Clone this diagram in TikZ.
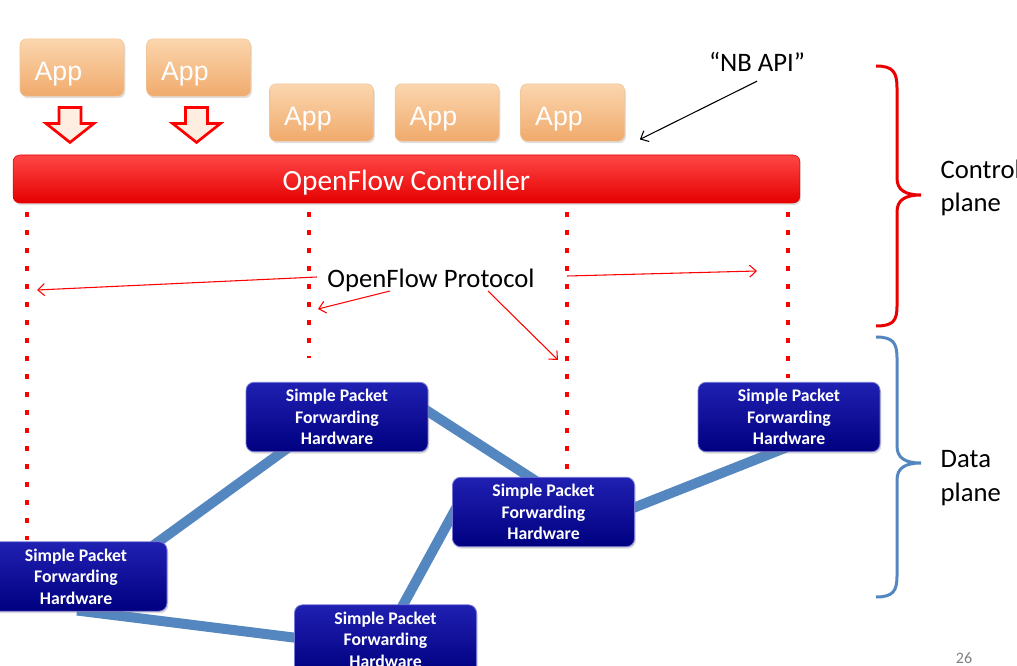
\documentclass[tikz,border=0pt]{standalone}
\usepackage{fontspec}
\setmainfont{Carlito}
\newfontfamily\appfont{Liberation Sans}
\usetikzlibrary{positioning,arrows.meta,shadows,backgrounds}

\definecolor{appTop}{RGB}{251,214,174}
\definecolor{appBot}{RGB}{240,170,108}
\definecolor{appEdge}{RGB}{238,196,150}
\definecolor{ctrlTop}{RGB}{255,70,70}
\definecolor{ctrlBot}{RGB}{228,0,0}
\definecolor{hwTop}{RGB}{32,32,178}
\definecolor{hwBot}{RGB}{0,0,128}
\definecolor{hwEdge}{RGB}{120,120,215}
\definecolor{linkBlue}{RGB}{84,134,192}
\definecolor{braceRed}{RGB}{235,0,0}
\definecolor{arrowFill}{RGB}{254,238,226}

\begin{document}
\begin{tikzpicture}[
    x=0.75pt, y=-0.75pt,
    node distance=16pt,
    app/.style={
        draw=appEdge,
        top color=appTop,
        bottom color=appBot,
        rounded corners=5pt,
        minimum height=43pt,
        text width=56pt,
        text height=24pt,
        text depth=4pt,
        inner xsep=11pt,
        align=left,
        text=white,
        font=\appfont\fontsize{20}{24}\selectfont,
        drop shadow={opacity=0.25,shadow xshift=1pt,shadow yshift=-1.5pt}
    },
    ctrl/.style={
        draw=ctrlBot,
        top color=ctrlTop,
        bottom color=ctrlBot,
        rounded corners=5pt,
        minimum width=590pt,
        minimum height=36pt,
        text height=17pt,
        text depth=0pt,
        text=white,
        font=\fontsize{22}{26}\selectfont,
        drop shadow={opacity=0.25,shadow xshift=1pt,shadow yshift=-1.5pt}
    },
    hw/.style={
        draw=hwEdge,
        line width=0.6pt,
        top color=hwTop,
        bottom color=hwBot,
        rounded corners=6pt,
        minimum width=136.5pt,
        minimum height=52pt,
        align=center,
        text=white,
        font=\bfseries\fontsize{13.3}{16.1}\selectfont,
        drop shadow={opacity=0.3,shadow xshift=1pt,shadow yshift=-1.5pt}
    },
    blockarrow/.style={draw=red, line width=2pt, fill=arrowFill, line join=miter},
    ofdots/.style={draw=red, line width=3pt, dash pattern=on 3.5pt off 10pt},
    ofarrow/.style={draw=red, line width=0.8pt, -{Straight Barb[length=5pt,width=9pt]}},
    nbarrow/.style={draw=black, line width=0.8pt, -{Straight Barb[length=5pt,width=9pt]}},
    link/.style={draw=linkBlue, line width=7.5pt},
    txt/.style={font=\fontsize{20}{25}\selectfont, align=left},
    pagenum/.style={text=gray, font=\fontsize{12}{14}\selectfont}
]

\useasboundingbox (0,0) rectangle (1017,666);
\clip (0,0) rectangle (1017,666);

% applications
\node[app] (App1) at (72,67.5) {App};
\node[app, right=16.5pt of App1] (App2) {App};
\node[app] (App3) at (321.5,112.5) {App};
\node[app, right=15.75pt of App3] (App4) {App};
\node[app, right=15.75pt of App4] (App5) {App};

% block arrows under the first two apps
\foreach \a in {App1,App2}
    \draw[blockarrow] ([shift={(-13,11)}]\a.south) -- ++(22,0) -- ++(0,16) -- ++(13,0)
        -- ++(-24,19) -- ++(-24,-19) -- ++(13,0) -- cycle;

% controller
\node[ctrl] (Ctrl) at (406.5,179) {OpenFlow Controller};

% switches
\node[hw] (S1) at (337,417) {Simple Packet\\Forwarding\\Hardware};
\node[hw] (S2) at (789,417) {Simple Packet\\Forwarding\\Hardware};
\node[hw] (S3) at (543.5,512) {Simple Packet\\Forwarding\\Hardware};
\node[hw] (S4) at (76,576.5) {Simple Packet\\Forwarding\\Hardware};
\node[hw] (S5) at (385.5,639.5) {Simple Packet\\Forwarding\\Hardware};

% dotted control channels and links
\coordinate (d1) at (27,540);
\coordinate (d2) at (309,358);
\coordinate (d3) at (567,470);
\coordinate (d4) at (788,378);
\begin{pgfonlayer}{background}
    \foreach \d in {d1,d2,d3,d4}
        \draw[ofdots] (Ctrl.south -| \d) ++(0,9) -- (\d);
    \draw[link] ([shift={(69,-25)}]S4.center) -- ([shift={(-37,22)}]S1.center);
    \draw[link] ([shift={(78,-14)}]S1.center) -- ([shift={(-3,-28)}]S3.center);
    \draw[link] ([shift={(77,1)}]S3.center) -- ([shift={(1,29)}]S2.center);
    \draw[link] ([shift={(-83,-12)}]S3.center) -- ([shift={(14,-28)}]S5.center);
    \draw[link] ([shift={(1,34)}]S4.center) -- ([shift={(-76,0)}]S5.center);
\end{pgfonlayer}

% protocol label
\node[txt, font=\fontsize{20}{24}\selectfont, inner sep=1pt] (Proto) at (431,280) {OpenFlow Protocol};
\coordinate (t1) at (37,290);
\coordinate (t2) at (318,309);
\coordinate (t3) at (558,360);
\coordinate (t4) at (757,271);
\draw[ofarrow] ([shift={(-9,-3)}]Proto.west) -- (t1);
\draw[ofarrow] ([shift={(-41,-2)}]Proto.south) -- (t2);
\draw[ofarrow] ([shift={(57,-2)}]Proto.south) -- (t3);
\draw[ofarrow] ([shift={(31,-4)}]Proto.east) -- (t4);

% northbound API
\node[txt, inner sep=1pt] (NB) at (757,62) {“NB API”};
\coordinate (nbend) at ([shift={(15,-2)}]App5.south east);
\draw[nbarrow] ([shift={(0,8)}]NB.south) -- (nbend);

% braces
\draw[braceRed, line width=2.25pt] (876,66) .. controls (893,66) and (897,72) .. (897,88)
    -- (897,178) .. controls (897,190) and (905,195) .. (921,195)
    .. controls (905,195) and (897,200) .. (897,212)
    -- (897,306) .. controls (897,321) and (893,326) .. (876,326);
\draw[linkBlue, line width=2.25pt] (876,337) .. controls (893,337) and (897,343) .. (897,358)
    -- (897,446) .. controls (897,458) and (905,463) .. (921,463)
    .. controls (905,463) and (897,468) .. (897,480)
    -- (897,576) .. controls (897,591) and (893,597) .. (876,597);

\node[txt, anchor=west] (CtlPlane) at (936,188) {Control\\plane};
\node[txt, anchor=west] (DataPlane) at (936,478) {Data\\plane};

\node[pagenum] (Num) at (964,658) {26};

\end{tikzpicture}
\end{document}
